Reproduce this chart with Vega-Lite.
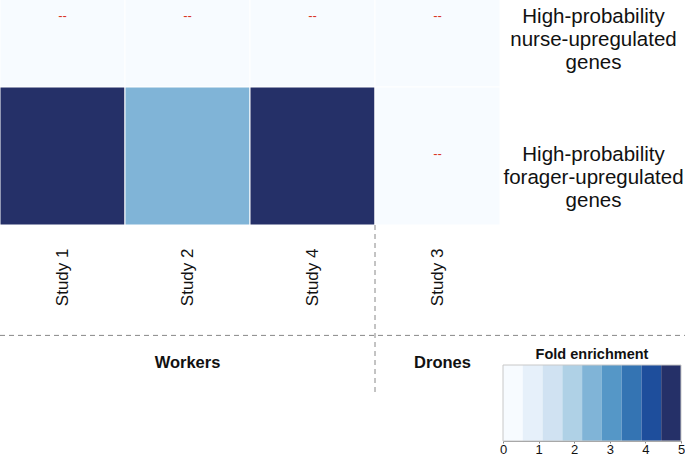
{
  "$schema": "https://vega.github.io/schema/vega-lite/v6.json",
  "width": 500,
  "height": 225,
  "autosize": {"type": "none"},
  "padding": {"left": 0, "top": 0, "right": 185, "bottom": 231},
  "background": "white",
  "config": {"font": "Liberation Sans", "view": {"stroke": null}, "axis": {"grid": false}},
  "datasets": {
    "cells": [
      {"study": "Study 1", "gene_set": "High-probability nurse-upregulated genes", "fold": 0, "significant": false},
      {"study": "Study 2", "gene_set": "High-probability nurse-upregulated genes", "fold": 0, "significant": false},
      {"study": "Study 4", "gene_set": "High-probability nurse-upregulated genes", "fold": 0, "significant": false},
      {"study": "Study 3", "gene_set": "High-probability nurse-upregulated genes", "fold": 0, "significant": false},
      {"study": "Study 1", "gene_set": "High-probability forager-upregulated genes", "fold": 4.8, "significant": true},
      {"study": "Study 2", "gene_set": "High-probability forager-upregulated genes", "fold": 2.5, "significant": true},
      {"study": "Study 4", "gene_set": "High-probability forager-upregulated genes", "fold": 4.8, "significant": true},
      {"study": "Study 3", "gene_set": "High-probability forager-upregulated genes", "fold": 0, "significant": false}
    ],
    "legend_bins": [
      {"lo": 0, "hi": 0.556, "mid": 0.28},
      {"lo": 0.556, "hi": 1.111, "mid": 0.83},
      {"lo": 1.111, "hi": 1.667, "mid": 1.39},
      {"lo": 1.667, "hi": 2.222, "mid": 1.94},
      {"lo": 2.222, "hi": 2.778, "mid": 2.5},
      {"lo": 2.778, "hi": 3.333, "mid": 3.06},
      {"lo": 3.333, "hi": 3.889, "mid": 3.61},
      {"lo": 3.889, "hi": 4.444, "mid": 4.17},
      {"lo": 4.444, "hi": 5, "mid": 4.72}
    ]
  },
  "resolve": {"scale": {"x": "independent", "y": "independent"}},
  "layer": [
    {
      "data": {"name": "cells"},
      "encoding": {
        "x": {
          "field": "study", "type": "nominal",
          "sort": ["Study 1", "Study 2", "Study 4", "Study 3"],
          "scale": {"paddingInner": 0, "paddingOuter": 0},
          "axis": {"orient": "bottom", "title": null, "labelAngle": -90, "labelFontSize": 17, "labelPadding": 23, "ticks": false, "tickSize": 0, "domain": false, "labelColor": "#111111"}
        },
        "y": {
          "field": "gene_set", "type": "nominal",
          "sort": ["High-probability nurse-upregulated genes", "High-probability forager-upregulated genes"],
          "scale": {"range": [-51, 225], "paddingInner": 0, "paddingOuter": 0},
          "axis": {"orient": "right", "title": null, "ticks": false, "tickSize": 0, "domain": false, "labelAlign": "center", "labelBaseline": "middle", "labelPadding": 93, "labelOffset": -1.5, "labelFontSize": 20.5, "labelLineHeight": 23.3, "labelExpr": "split(datum.label, ' ')", "labelColor": "#111111", "labelLimit": 0, "labelOverlap": false}
        }
      },
      "layer": [
        {
          "mark": {"type": "rect", "clip": true, "stroke": "white", "strokeWidth": 1},
          "encoding": {
            "color": {
              "field": "fold", "type": "quantitative",
              "scale": {"type": "quantize", "domain": [0, 5], "range": ["#f7fbff", "#e6f0fa", "#d0e2f2", "#afd1e6", "#80b4d7", "#5597c7", "#3474b3", "#1e4e9c", "#253068"]},
              "legend": null
            }
          }
        },
        {
          "transform": [{"filter": "!datum.significant"}],
          "mark": {"type": "text", "text": "--", "color": "#d9341f", "fontSize": 13, "baseline": "middle", "dy": -2}
        }
      ]
    },
    {
      "data": {"values": [{}]},
      "layer": [
        {
          "mark": {"type": "rule", "strokeDash": [5, 4], "color": "#888888", "strokeWidth": 1},
          "encoding": {
            "x": {"datum": 0, "type": "quantitative", "scale": {"domain": [0, 4], "nice": false, "zero": false}, "axis": null},
            "x2": {"datum": 5.48},
            "y": {"datum": 2.8, "type": "quantitative", "scale": {"domain": [0, 2], "range": [-51, 225], "nice": false, "zero": false}, "axis": null}
          }
        },
        {
          "mark": {"type": "rule", "strokeDash": [5, 4], "color": "#888888", "strokeWidth": 1},
          "encoding": {
            "x": {"datum": 3, "type": "quantitative"},
            "y": {"datum": 2, "type": "quantitative"},
            "y2": {"datum": 3.22}
          }
        },
        {
          "mark": {"type": "text", "fontWeight": "bold", "fontSize": 16.5, "baseline": "middle", "color": "#111111"},
          "encoding": {
            "x": {"datum": 1.5, "type": "quantitative"},
            "y": {"datum": 3.0, "type": "quantitative"},
            "text": {"value": "Workers"}
          }
        },
        {
          "mark": {"type": "text", "fontWeight": "bold", "fontSize": 16.5, "baseline": "middle", "color": "#111111"},
          "encoding": {
            "x": {"datum": 3.54, "type": "quantitative"},
            "y": {"datum": 3.0, "type": "quantitative"},
            "text": {"value": "Drones"}
          }
        }
      ]
    },
    {
      "layer": [
        {
          "data": {"name": "legend_bins"},
          "mark": {"type": "rect"},
          "encoding": {
            "x": {
              "field": "lo", "type": "quantitative",
              "scale": {"domain": [0, 5], "range": [503, 681], "nice": false, "zero": false},
              "axis": {"orient": "bottom", "offset": 216, "title": null, "values": [0, 1, 2, 3, 4, 5], "format": "d", "tickSize": 2, "labelPadding": 0, "labelFontSize": 13, "labelColor": "#111111", "domainColor": "#888888", "tickColor": "#888888", "labelFlush": false, "labelOverlap": false, "grid": false}
            },
            "x2": {"field": "hi"},
            "y": {"datum": 0, "type": "quantitative", "scale": {"domain": [0, 1], "range": [441, 365], "nice": false, "zero": false}, "axis": null},
            "y2": {"datum": 1},
            "color": {
              "field": "mid", "type": "quantitative",
              "scale": {"type": "quantize", "domain": [0, 5], "range": ["#f7fbff", "#e6f0fa", "#d0e2f2", "#afd1e6", "#80b4d7", "#5597c7", "#3474b3", "#1e4e9c", "#253068"]},
              "legend": null
            }
          }
        },
        {
          "data": {"values": [{}]},
          "mark": {"type": "rect", "fill": null, "stroke": "#c8c8c8", "strokeWidth": 1},
          "encoding": {
            "x": {"datum": 0, "type": "quantitative"},
            "x2": {"datum": 5},
            "y": {"datum": 0, "type": "quantitative"},
            "y2": {"datum": 1}
          }
        },
        {
          "data": {"values": [{}]},
          "mark": {"type": "text", "fontWeight": "bold", "fontSize": 14.5, "baseline": "bottom", "dy": -3, "color": "#111111"},
          "encoding": {
            "x": {"datum": 2.5, "type": "quantitative"},
            "y": {"datum": 1, "type": "quantitative"},
            "text": {"value": "Fold enrichment"}
          }
        }
      ]
    }
  ]
}
